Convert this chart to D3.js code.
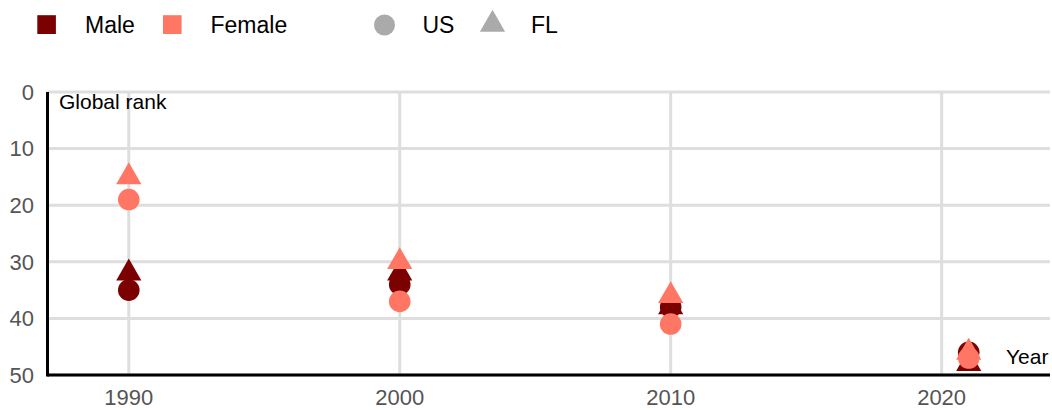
<!DOCTYPE html>
<html>
<head>
<meta charset="utf-8">
<script src="https://cdn.jsdelivr.net/npm/d3@7"></script>
<style>
  body { margin: 0; background: #fff; }
  text { font-family: "Liberation Sans", Arial, sans-serif; }
</style>
</head>
<body>
<div id="chart"></div>
<script>
// data
const years = [1990, 2000, 2010, 2021];
const maleUS = [35, 34, 38, 46];
const maleFL = [32, 32, 38, 48];
const femaleUS = [19, 37, 41, 47];
const femaleFL = [15, 30, 36, 46];
const yTicks = [0, 10, 20, 30, 40, 50];
const xTicks = [1990, 2000, 2010, 2020];

const colors = { Male: "#7b0000", Female: "#ff7664" };

let width = 1052, height = 410;
let margin = { top: 92, right: 2, bottom: 35, left: 47.5 };

let svg = d3.select("#chart").append("svg")
    .attr("width", width).attr("height", height);

let x = d3.scaleLinear().domain([1987, 2024]).range([margin.left, width - margin.right]);
let y = d3.scaleLinear().domain([0, 50]).range([margin.top, height - margin.bottom]);

// grid
svg.append("g").selectAll("line.h")
    .data(yTicks).enter().append("line")
    .attr("x1", margin.left).attr("x2", width - margin.right)
    .attr("y1", d => y(d)).attr("y2", d => y(d))
    .attr("stroke", "#dedede").attr("stroke-width", 3);
svg.append("g").selectAll("line.v")
    .data(xTicks).enter().append("line")
    .attr("x1", d => x(d)).attr("x2", d => x(d))
    .attr("y1", y(0)).attr("y2", y(50))
    .attr("stroke", "#dedede").attr("stroke-width", 3);

// tick labels
svg.append("g").selectAll("text")
    .data(yTicks).enter().append("text")
    .attr("x", 34).attr("y", d => y(d))
    .attr("dy", "0.35em")
    .attr("text-anchor", "end")
    .attr("font-size", 22).attr("fill", "#555")
    .text(d => d);
svg.append("g").selectAll("text")
    .data(xTicks).enter().append("text")
    .attr("x", d => x(d)).attr("y", 405)
    .attr("text-anchor", "middle")
    .attr("font-size", 22).attr("fill", "#555")
    .text(d => d);

// axis lines
svg.append("line")
    .attr("x1", margin.left).attr("x2", margin.left)
    .attr("y1", y(0)).attr("y2", y(50) + 1.5)
    .attr("stroke", "#000").attr("stroke-width", 3);
svg.append("line")
    .attr("x1", margin.left).attr("x2", width - margin.right)
    .attr("y1", y(50)).attr("y2", y(50))
    .attr("stroke", "#000").attr("stroke-width", 3);

// points: male first, female on top
let circle = d3.symbol().type(d3.symbolCircle).size(Math.PI * 10.8 * 10.8);
let triangle = d3.symbol().type(d3.symbolTriangle).size(275);

const series = [
    { sex: "Male", shape: circle, vals: maleUS },
    { sex: "Male", shape: triangle, vals: maleFL },
    { sex: "Female", shape: circle, vals: femaleUS },
    { sex: "Female", shape: triangle, vals: femaleFL }
];

series.forEach(s => {
    svg.append("g").selectAll("path")
        .data(years.map((yr, i) => ({ yr: yr, v: s.vals[i] })))
        .enter().append("path")
        .attr("d", s.shape())
        .attr("transform", d => "translate(" + x(d.yr) + "," + y(d.v) + ")")
        .attr("fill", colors[s.sex]);
});

// axis titles
svg.append("text").attr("x", 59).attr("y", 109)
    .attr("font-size", 21).attr("fill", "#000").text("Global rank");
svg.append("text").attr("x", 1006).attr("y", 364)
    .attr("font-size", 21).attr("fill", "#000").text("Year");

// legend
let legend = svg.append("g");
legend.append("rect").attr("x", 37.3).attr("y", 15.2).attr("width", 18.6).attr("height", 18.8).attr("fill", colors.Male);
legend.append("text").attr("x", 85).attr("y", 33).attr("font-size", 23).text("Male");
legend.append("rect").attr("x", 163).attr("y", 15.2).attr("width", 18.6).attr("height", 18.8).attr("fill", colors.Female);
legend.append("text").attr("x", 210.5).attr("y", 33).attr("font-size", 23).text("Female");
legend.append("path").attr("d", d3.symbol().type(d3.symbolCircle).size(Math.PI * 10.5 * 10.5)())
    .attr("transform", "translate(384.5,25)").attr("fill", "#aaa");
legend.append("text").attr("x", 422.5).attr("y", 33).attr("font-size", 23).text("US");
legend.append("path").attr("d", d3.symbol().type(d3.symbolTriangle).size(275)())
    .attr("transform", "translate(492.5,24.4)").attr("fill", "#aaa");
legend.append("text").attr("x", 531).attr("y", 33).attr("font-size", 23).text("FL");
</script>
</body>
</html>
